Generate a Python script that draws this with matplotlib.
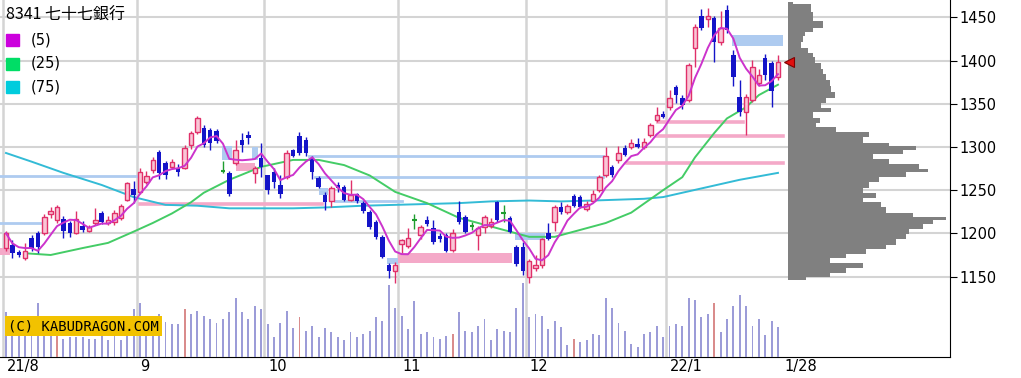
import numpy as np
import pandas as pd
import matplotlib
matplotlib.use('Agg')
import matplotlib.pyplot as plt
from matplotlib.patches import Rectangle

# 8341 daily candles, 2021/8/2 .. 2022/1/28 (122 trading days)
opens = [1183, 1186, 1179, 1171, 1195, 1200, 1200, 1222, 1215, 1217,
         1212, 1200, 1209, 1203, 1212, 1223, 1212, 1213, 1218, 1239,
         1251, 1248, 1260, 1273, 1294, 1282, 1277, 1276, 1276, 1302,
         1317, 1322, 1320, 1318, 1272, 1270, 1281, 1308, 1314, 1270,
         1287, 1267, 1271, 1256, 1265, 1296, 1313, 1308, 1287, 1264,
         1244, 1238, 1256, 1254, 1239, 1245, 1235, 1225, 1213, 1196,
         1163, 1156, 1188, 1185, 1215, 1198, 1216, 1206, 1197, 1198,
         1181, 1225, 1219, 1208, 1198, 1207, 1209, 1236, 1223, 1218,
         1184, 1184, 1150, 1160, 1163, 1200, 1213, 1230, 1225, 1243,
         1242, 1228, 1238, 1250, 1267, 1277, 1285, 1299, 1300, 1303,
         1300, 1314, 1331, 1338, 1346, 1369, 1357, 1354, 1414, 1452,
         1448, 1449, 1421, 1458, 1406, 1358, 1341, 1354, 1374, 1403,
         1397, 1381]
highs = [1203, 1192, 1181, 1189, 1198, 1203, 1222, 1231, 1233, 1220,
         1214, 1226, 1214, 1210, 1229, 1226, 1220, 1227, 1234, 1260,
         1261, 1276, 1272, 1288, 1296, 1284, 1286, 1280, 1302, 1318,
         1336, 1325, 1322, 1321, 1284, 1272, 1308, 1316, 1318, 1278,
         1304, 1268, 1276, 1267, 1296, 1298, 1317, 1311, 1289, 1266,
         1248, 1255, 1259, 1256, 1262, 1247, 1238, 1227, 1215, 1198,
         1166, 1167, 1194, 1206, 1222, 1210, 1220, 1215, 1200, 1200,
         1205, 1237, 1221, 1213, 1208, 1221, 1218, 1238, 1233, 1220,
         1187, 1190, 1170, 1175, 1195, 1212, 1233, 1236, 1234, 1245,
         1244, 1238, 1250, 1268, 1300, 1279, 1301, 1302, 1309, 1310,
         1310, 1328, 1346, 1342, 1366, 1372, 1360, 1397, 1442, 1460,
         1461, 1451, 1457, 1464, 1412, 1378, 1361, 1401, 1390, 1408,
         1400, 1406]
lows = [1180, 1172, 1173, 1169, 1180, 1177, 1198, 1218, 1212, 1195,
        1196, 1199, 1202, 1202, 1210, 1211, 1210, 1210, 1216, 1237,
        1235, 1245, 1257, 1270, 1263, 1263, 1275, 1266, 1274, 1298,
        1315, 1300, 1297, 1304, 1270, 1243, 1279, 1294, 1303, 1258,
        1265, 1245, 1252, 1241, 1263, 1288, 1291, 1290, 1263, 1252,
        1227, 1230, 1248, 1237, 1237, 1235, 1223, 1205, 1194, 1171,
        1148, 1143, 1177, 1183, 1205, 1193, 1208, 1188, 1190, 1178,
        1179, 1211, 1200, 1204, 1181, 1200, 1206, 1213, 1213, 1200,
        1162, 1152, 1143, 1157, 1160, 1192, 1203, 1222, 1222, 1230,
        1229, 1226, 1236, 1248, 1265, 1265, 1281, 1289, 1298, 1299,
        1298, 1312, 1329, 1333, 1343, 1351, 1344, 1352, 1392, 1435,
        1439, 1398, 1418, 1432, 1371, 1336, 1314, 1352, 1370, 1378,
        1346, 1378]
closes = [1200, 1177, 1175, 1180, 1183, 1184, 1219, 1226, 1230, 1203,
          1201, 1217, 1204, 1207, 1216, 1213, 1216, 1224, 1232, 1258,
          1244, 1271, 1266, 1285, 1270, 1268, 1283, 1271, 1299, 1316,
          1333, 1302, 1305, 1307, 1272, 1245, 1297, 1302, 1310, 1276,
          1277, 1250, 1259, 1246, 1293, 1290, 1293, 1293, 1271, 1254,
          1236, 1252, 1252, 1239, 1244, 1237, 1226, 1207, 1196, 1173,
          1156, 1163, 1192, 1195, 1215, 1207, 1211, 1190, 1193, 1180,
          1200, 1213, 1202, 1208, 1206, 1219, 1213, 1216, 1223, 1202,
          1164, 1156, 1168, 1163, 1193, 1194, 1230, 1225, 1232, 1232,
          1231, 1234, 1245, 1265, 1290, 1268, 1293, 1291, 1305, 1300,
          1306, 1325, 1337, 1335, 1357, 1360, 1349, 1395, 1439, 1438,
          1452, 1421, 1438, 1435, 1381, 1341, 1358, 1392, 1383, 1383,
          1365, 1398]
volume = [266, 180, 170, 190, 180, 324, 180, 160, 160, 110,
          120, 120, 120, 110, 110, 128, 100, 128, 100, 148,
          284, 324, 210, 200, 256, 210, 200, 200, 284, 256,
          274, 246, 226, 206, 226, 266, 350, 266, 226, 304,
          284, 196, 120, 206, 274, 176, 236, 158, 186, 120,
          176, 148, 120, 100, 148, 120, 138, 158, 236, 216,
          430, 294, 246, 168, 334, 140, 148, 120, 110, 128,
          140, 266, 158, 148, 188, 226, 100, 168, 158, 148,
          294, 440, 236, 256, 246, 168, 216, 178, 70, 110,
          90, 100, 140, 130, 352, 294, 206, 158, 80, 60,
          140, 148, 188, 120, 188, 198, 188, 352, 342, 236,
          256, 324, 148, 226, 304, 372, 304, 188, 226, 130,
          216, 178]
red_volume_days = [8, 28, 46, 70, 89, 111]

# moving averages (day index, price)
ma25_day = [3, 7, 12, 16, 20, 23, 26, 29, 31, 35, 40, 45, 49, 53, 57, 61, 66,
            71, 77, 82, 86, 90, 94, 98, 103, 106, 108, 111, 113, 116, 118, 121]
ma25_val = [1177, 1175, 1183, 1189, 1202, 1212, 1223, 1236, 1247, 1262, 1277,
            1285, 1285, 1279, 1267, 1248, 1235, 1218, 1206, 1196, 1196, 1204,
            1212, 1224, 1250, 1265, 1288, 1316, 1333, 1346, 1360, 1372]
ma75_day = [0, 4, 9, 15, 20, 25, 30, 35, 45, 50, 56, 61, 71, 76, 82, 87, 92,
            100, 103, 109, 115, 121]
ma75_val = [1293, 1283, 1270, 1256, 1242, 1233, 1232, 1229, 1229, 1230, 1232,
            1233, 1235, 1237, 1238, 1237, 1238, 1240, 1242, 1252, 1262, 1270]

# volume-by-price profile
prof_price = [1468, 1462, 1451, 1441, 1435, 1432, 1424, 1418, 1412, 1406,
              1401, 1393, 1387, 1381, 1374, 1366, 1360, 1354, 1348, 1343,
              1337, 1331, 1325, 1320, 1314, 1308, 1302, 1300, 1294, 1289,
              1283, 1277, 1273, 1268, 1262, 1256, 1250, 1244, 1239, 1233,
              1227, 1221, 1218, 1213, 1208, 1202, 1196, 1190, 1184, 1179,
              1173, 1169, 1163, 1157, 1152, 1146]
prof_vol = [15, 70, 75, 105, 75, 50, 45, 40, 60, 75,
            80, 100, 105, 113, 125, 130, 140, 115, 100, 130,
            75, 95, 85, 145, 245, 225, 305, 385, 345, 255,
            305, 395, 420, 355, 275, 245, 225, 265, 225, 280,
            295, 375, 475, 435, 405, 365, 355, 325, 295, 235,
            175, 125, 225, 175, 125, 55]

# gap windows / support lines: (start day, end day, low, high)
blue_boxes = [(33.8, 35.5, 1285, 1301), (38.5, 39.5, 1285, 1300),
              (49, 50.5, 1244, 1252), (59.7, 61.5, 1164, 1172),
              (79.8, 84.5, 1192, 1200), (113.8, 121.8, 1417, 1430)]
pink_boxes = [(-1, 0.6, 1175, 1183), (36, 39, 1272, 1281),
              (61.5, 79.3, 1166, 1177)]
blue_lines = [(-1, 21, 1266), (-1, 5.5, 1212), (47.5, 93.6, 1290),
              (48.5, 93.6, 1265), (51.5, 62, 1238)]
pink_lines = [(21, 49.5, 1234), (102.2, 115.5, 1329), (102, 121.8, 1313),
              (97.3, 121.8, 1281)]

month_days = [-0.5, 20.5, 40.5, 61.5, 81.5, 103.5]
month_labels = ['21/8', '9', '10', '11', '12', '22/1']

W, H = 1021, 378
fig = plt.figure(figsize=(W / 100, H / 100), dpi=100)
fig.patch.set_facecolor('white')

px_per_day = 6.38
x0_day = -6 / px_per_day
x1_day = (950 - 6) / px_per_day
y_top = 1450 + 17.3 * 1.157
y_bot = 1450 - (357 - 17.3) * 1.157

rect = [0, 21 / H, 950 / W, 357 / H]
ax = fig.add_axes(rect)
ax.set_xlim(x0_day, x1_day)
ax.set_ylim(y_bot, y_top)
for s in ['top', 'left']:
    ax.spines[s].set_visible(False)
ax.spines['right'].set_color('black')
ax.spines['bottom'].set_color('black')
ax.yaxis.tick_right()
ax.set_yticks(range(1150, 1451, 50))
ax.tick_params(axis='y', length=5, direction='out', labelsize=10.5, pad=2)
ax.set_xticks([])

grid_c = '#d4d4d4'
for p in range(1150, 1451, 50):
    ax.axhline(p, color=grid_c, lw=1.5, zorder=0)
for d in month_days:
    ax.axvline(d, color=grid_c, lw=1.8, zorder=0)

for (a, b, lo, hi) in blue_boxes:
    ax.add_patch(Rectangle((a, lo), b - a, hi - lo, color='#aecbf0', lw=0, zorder=1))
for (a, b, lo, hi) in pink_boxes:
    ax.add_patch(Rectangle((a, lo), b - a, hi - lo, color='#f4a9c8', lw=0, zorder=1))
for (a, b, p) in blue_lines:
    ax.plot([a, b], [p, p], color='#aecbf0', lw=2, zorder=1)
for (a, b, p) in pink_lines:
    ax.plot([a, b], [p, p], color='#f4a9c8', lw=2.6, zorder=1)

days = np.arange(len(closes))
ma5 = pd.Series(closes).rolling(5, min_periods=1).mean()
ax.plot(ma75_day, ma75_val, color='#33bbd6', lw=1.4, zorder=2)
ax.plot(ma25_day, ma25_val, color='#44cc66', lw=1.4, zorder=2)
ax.plot(days, ma5, color='#cc33cc', lw=1.4, zorder=4)

up_edge, up_face, down_c, flat_c = '#e0306a', '#f9c6d6', '#1414c8', '#1e9e2e'
for i in days:
    o, h, l, c = opens[i], highs[i], lows[i], closes[i]
    if c > o:
        col = up_edge
    elif c < o:
        col = down_c
    else:
        col = flat_c
    ax.vlines(i, l, h, color=col, lw=1, zorder=3)
    if c > o:
        ax.bar(i, c - o, bottom=o, width=0.7, facecolor=up_face,
               edgecolor=up_edge, lw=1, zorder=3)
    elif c < o:
        ax.bar(i, o - c, bottom=c, width=0.7, color=down_c, lw=0, zorder=3)
    else:
        ax.hlines(c, i - 0.35, i + 0.35, color=col, lw=1.5, zorder=3)

for d, lab in zip(month_days, month_labels):
    ax.text(d + 0.6, y_bot - 10 * 1.157, lab, fontsize=10.5, ha='left',
            va='center', clip_on=False)
ax.text(121.5 + 0.5, y_bot - 10 * 1.157, '1/28', fontsize=10.5, ha='left',
        va='center', clip_on=False)

# volume panel
axv = fig.add_axes([0, 21 / H, 950 / W, 77 / H])
axv.set_xlim(x0_day, x1_day)
axv.set_ylim(0, 460)
axv.axis('off')
axv.patch.set_alpha(0)
vcol = ['#d98c8c' if i in red_volume_days else '#9c9cd8' for i in days]
axv.bar(days, volume, width=0.3, color=vcol, lw=0)

# price profile
axp = fig.add_axes([788 / W, 21 / H, 162 / W, 357 / H])
axp.set_ylim(y_bot, y_top)
axp.set_xlim(0, 487)
axp.axis('off')
axp.patch.set_alpha(0)
axp.fill_betweenx(prof_price, 0, prof_vol, step='mid', color='#808080', lw=0)
# last price marker
axp.plot(2, closes[-1], marker='<', ms=7, color='#e01010',
         mec='#800000', mew=0.8, zorder=6, clip_on=False)

# legend
fig.text(6 / W, 1 - 15 / H, '8341 七十七銀行', fontsize=11.5,
         family=['Noto Sans CJK JP', 'DejaVu Sans'], va='center')
for k, (lab, col) in enumerate([('(5)', '#cc00dd'), ('(25)', '#00dd66'),
                                 ('(75)', '#00ccdd')]):
    yc = 40 + k * 23.5
    fig.patches.append(Rectangle((6 / W, 1 - (yc + 6) / H), 13 / W, 12 / H,
                                 color=col, transform=fig.transFigure))
    fig.text(31 / W, 1 - yc / H, lab, fontsize=10.5, va='center')

fig.text(8 / W, 1 - 326 / H, '(C) KABUDRAGON.COM', fontsize=10,
         family='DejaVu Sans Mono', va='center',
         bbox=dict(boxstyle='square,pad=0.2', fc='#f2c200', ec='none'))

fig.savefig('out.png', dpi=100)
